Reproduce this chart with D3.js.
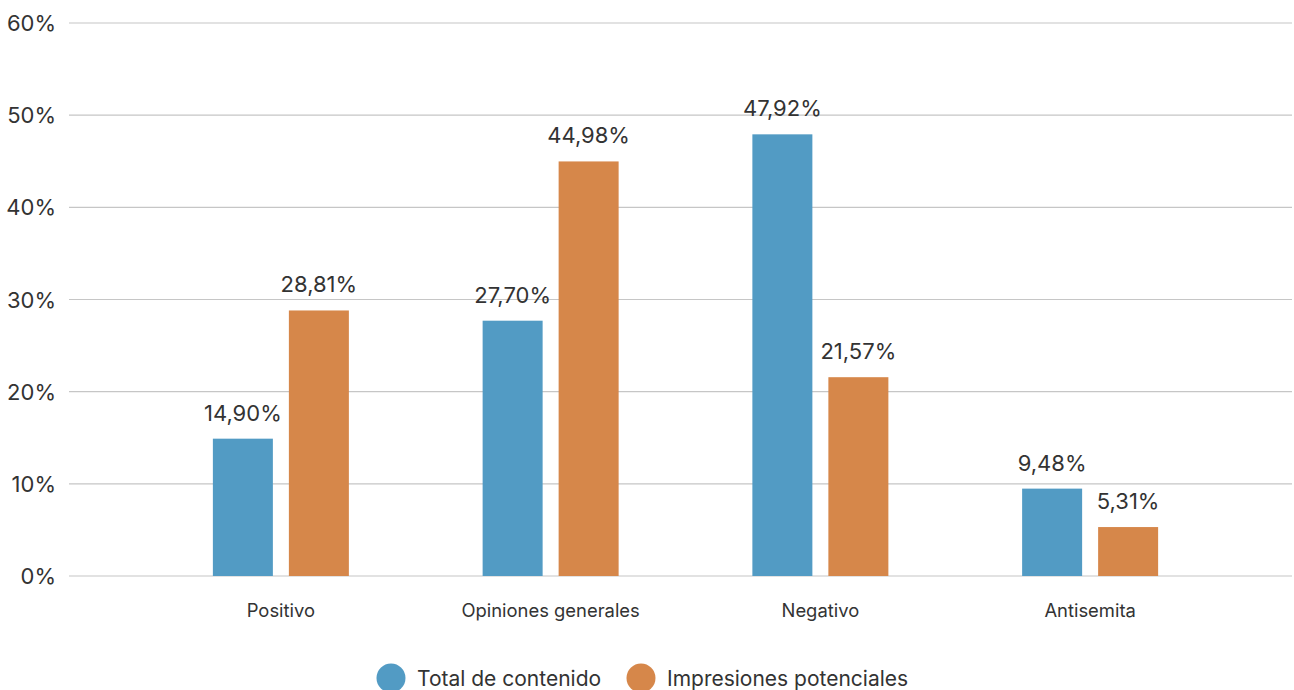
<!DOCTYPE html>
<html>
<head>
<meta charset="utf-8">
<script src="https://cdn.jsdelivr.net/npm/d3@7"></script>
<style>
  body { margin: 0; background: #fff; }
  text { font-family: Inter, "Noto Sans", sans-serif; fill: #333; }
</style>
</head>
<body>
<svg></svg>
<script>
let width = 1294;
let height = 690;

// chart data
let categories = ['Positivo', 'Opiniones generales', 'Negativo', 'Antisemita'];
let seriesNames = ['Total de contenido', 'Impresiones potenciales'];
let totalContenido = [14.90, 27.70, 47.92, 9.48];
let impresiones = [28.81, 44.98, 21.57, 5.31];
let yTicks = [0, 10, 20, 30, 40, 50, 60];
let colors = ['#529bc4', '#d6874a'];

let svg = d3.select('svg')
    .attr('width', width)
    .attr('height', height);

let y = d3.scaleLinear()
    .domain([0, 60])
    .range([576, 23]);

let x = d3.scaleBand()
    .domain(categories)
    .range([146, 1225]);

// two bars of 60px with a 16px gap, centred in each band
let inner = d3.scaleBand()
    .domain(seriesNames)
    .range([x.bandwidth() / 2 - 68, x.bandwidth() / 2 + 68])
    .paddingInner(16 / 76);

// gridlines
svg.append('g')
    .selectAll('line')
    .data(yTicks)
    .enter()
    .append('line')
    .attr('x1', 69)
    .attr('x2', 1292)
    .attr('y1', d => y(d))
    .attr('y2', d => y(d))
    .attr('stroke', '#c6c6c6')
    .attr('stroke-width', 1.2);

// y tick labels
svg.append('g')
    .selectAll('text')
    .data(yTicks)
    .enter()
    .append('text')
    .attr('x', 56)
    .attr('y', d => y(d) + 8)
    .attr('text-anchor', 'end')
    .style('font-size', '22px')
    .text(d => d + '%');

// building rows from the arrays
let rows = categories.map((c, i) => ({
    category: c,
    values: [
        { name: seriesNames[0], value: totalContenido[i], color: colors[0] },
        { name: seriesNames[1], value: impresiones[i], color: colors[1] }
    ]
}));

let groups = svg.selectAll('g.cat')
    .data(rows)
    .enter()
    .append('g')
    .classed('cat', true)
    .attr('transform', d => `translate(${x(d.category)},0)`);

groups.selectAll('rect')
    .data(d => d.values)
    .enter()
    .append('rect')
    .attr('x', d => inner(d.name))
    .attr('width', inner.bandwidth())
    .attr('y', d => y(d.value))
    .attr('height', d => y(0) - y(d.value))
    .attr('fill', d => d.color);

groups.selectAll('text.val')
    .data(d => d.values)
    .enter()
    .append('text')
    .classed('val', true)
    .attr('x', d => inner(d.name) + inner.bandwidth() / 2)
    .attr('y', d => y(d.value) - 18)
    .attr('text-anchor', 'middle')
    .style('font-size', '22px')
    .text(d => d.value.toFixed(2).replace('.', ',') + '%');

// category labels
svg.append('g')
    .selectAll('text')
    .data(categories)
    .enter()
    .append('text')
    .attr('x', d => x(d) + x.bandwidth() / 2)
    .attr('y', 617)
    .attr('text-anchor', 'middle')
    .style('font-size', '18.4px')
    .text(d => d);

// legend
let legendX = [391, 641];
let legend = svg.append('g')
    .selectAll('g')
    .data(seriesNames)
    .enter()
    .append('g')
    .attr('transform', (d, i) => `translate(${legendX[i]}, 678)`);

legend.append('circle')
    .attr('r', 14.5)
    .attr('fill', (d, i) => colors[i]);

legend.append('text')
    .attr('x', 26)
    .attr('y', 8)
    .style('font-size', '21px')
    .text(d => d);
</script>
</body>
</html>
